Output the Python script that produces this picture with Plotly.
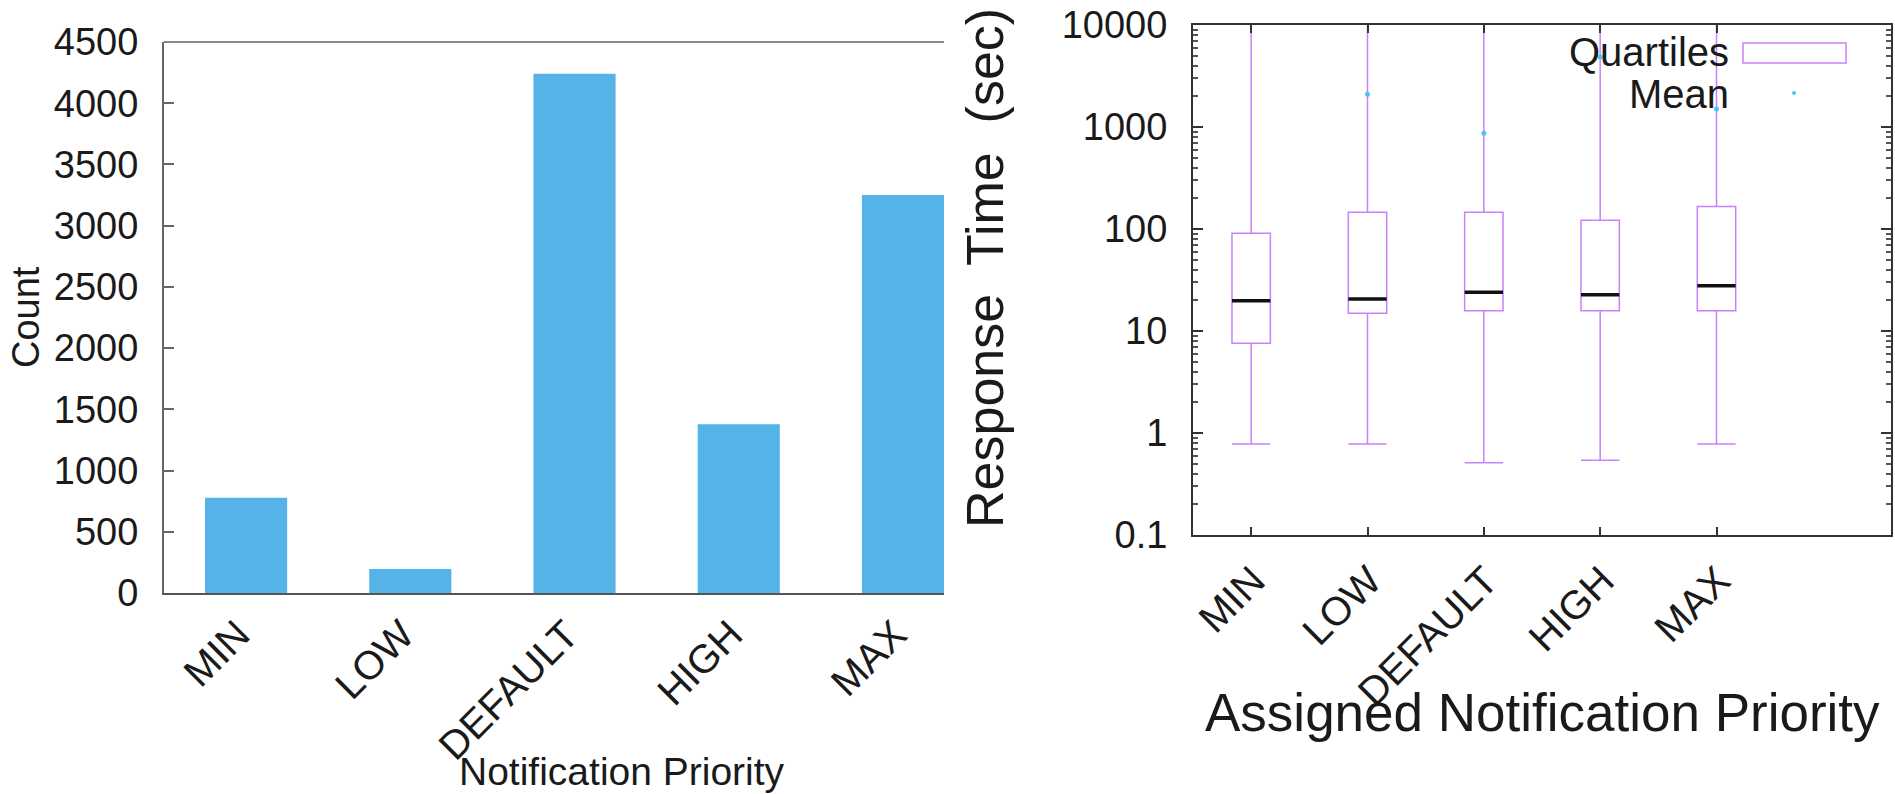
import plotly.graph_objects as go

# ---- data -------------------------------------------------------------
priorities = ["MIN", "LOW", "DEFAULT", "HIGH", "MAX"]

# number of notifications per priority
counts = [778, 197, 4240, 1378, 3250]

# response time statistics (seconds) per assigned priority
q1 = [7.6, 14.9, 15.8, 15.8, 15.8]
median = [19.8, 20.6, 24.0, 22.7, 27.8]
q3 = [90.8, 146, 146, 122, 166]
lower_whisker = [0.78, 0.78, 0.51, 0.54, 0.78]
upper_whisker = [100000, 100000, 100000, 100000, 100000]  # beyond the axis top
mean = [None, 2090, 867, 4850, 1500]

y_ticks_count = [0, 500, 1000, 1500, 2000, 2500, 3000, 3500, 4000, 4500]
y_ticks_time = [0.1, 1, 10, 100, 1000, 10000]
y_ticklabels_time = ["0.1", "1", "10", "100", "1000", "10000"]

# ---- styling ----------------------------------------------------------
W, H = 1895, 794
FONT = "Liberation Sans"
BAR_BLUE = "#55b3e8"
VIOLET = "#c981fb"
MEAN_BLUE = "#4fc3f7"


def px_x(p):
    return p / W


def px_y(p):
    return 1 - p / H


x_pos = list(range(len(priorities)))          # bar chart positions
box_pos = [i + 1 for i in range(len(priorities))]  # box plot positions

fig = go.Figure()

# Left: bar chart of counts
fig.add_trace(go.Bar(
    x=x_pos, y=counts, width=0.5,
    marker=dict(color=BAR_BLUE, line=dict(width=0)),
    xaxis="x", yaxis="y", showlegend=False,
))

# Right: quartile boxes with whiskers
fig.add_trace(go.Box(
    x=box_pos, q1=q1, median=median, q3=q3,
    lowerfence=lower_whisker, upperfence=upper_whisker,
    width=0.33, whiskerwidth=1,
    line=dict(color=VIOLET, width=1.5),
    fillcolor="rgba(0,0,0,0)",
    boxpoints=False,
    xaxis="x2", yaxis="y2", showlegend=False,
))

# medians drawn as thick black bars across each box
fig.add_trace(go.Box(
    x=box_pos, q1=median, median=median, q3=median,
    lowerfence=median, upperfence=median,
    width=0.33, whiskerwidth=0,
    line=dict(color="#111111", width=3.5),
    fillcolor="rgba(0,0,0,0)",
    boxpoints=False,
    xaxis="x2", yaxis="y2", showlegend=False,
))

# means
fig.add_trace(go.Scatter(
    x=box_pos, y=mean, mode="markers",
    marker=dict(color=MEAN_BLUE, size=5),
    xaxis="x2", yaxis="y2", showlegend=False,
))

minor_vals = [m * 10 ** e for e in range(-1, 4) for m in range(2, 10)]

fig.update_layout(
    width=W, height=H,
    margin=dict(l=0, r=0, t=0, b=0, autoexpand=False),
    paper_bgcolor="white", plot_bgcolor="white",
    font=dict(family=FONT, color="#1a1a1a", size=38),
    boxmode="overlay",
    xaxis=dict(
        domain=[px_x(164), px_x(944)],
        range=[-0.5, 4.25], automargin=False,
        tickmode="array", tickvals=x_pos, ticktext=priorities,
        tickangle=-45, ticks="", showgrid=False, zeroline=False,
        showline=True, linecolor="#555555", linewidth=2,
        tickfont=dict(size=40), ticklabelstandoff=0, ticklabelshift=-8,
        anchor="y",
    ),
    yaxis=dict(
        domain=[px_y(593), px_y(42)],
        range=[0, 4500], automargin=False,
        tickmode="array", tickvals=y_ticks_count,
        ticks="inside", ticklen=10, tickwidth=2, tickcolor="#666666",
        showgrid=False, zeroline=False,
        showline=True, linecolor="#666666", linewidth=2,
        tickfont=dict(size=38), ticklabelstandoff=16,
        anchor="x",
    ),
    xaxis2=dict(
        domain=[px_x(1193), px_x(1891)],
        range=[0.5, 6.5], automargin=False,
        tickmode="array", tickvals=box_pos, ticktext=priorities,
        tickangle=-45, ticks="inside", ticklen=8, tickwidth=1.5,
        tickcolor="#333333", mirror="ticks",
        showgrid=False, zeroline=False,
        showline=True, linecolor="#333333", linewidth=2,
        tickfont=dict(size=40), ticklabelstandoff=4, ticklabelshift=2,
        anchor="y2",
    ),
    yaxis2=dict(
        domain=[px_y(535), px_y(25)],
        type="log", range=[-1, 4], automargin=False,
        tickmode="array", tickvals=y_ticks_time, ticktext=y_ticklabels_time,
        ticks="inside", ticklen=10, tickwidth=1.5, tickcolor="#333333",
        mirror="ticks",
        minor=dict(tickmode="array", tickvals=minor_vals, ticks="inside",
                   ticklen=5, tickcolor="#555555", showgrid=False),
        showgrid=False, zeroline=False,
        showline=True, linecolor="#333333", linewidth=2,
        tickfont=dict(size=38), ticklabelstandoff=16,
        anchor="x2",
    ),
)

# top spine of the bar chart (no right spine)
fig.add_shape(type="line", xref="x domain", yref="y domain",
              x0=0, x1=1, y0=1, y1=1,
              line=dict(color="#888888", width=2))

# axis titles
fig.add_annotation(text="Count", x=px_x(26), y=px_y(317), xref="paper", yref="paper",
                   textangle=-90, showarrow=False, font=dict(size=38),
                   xanchor="center", yanchor="middle")
fig.add_annotation(text="Notification Priority", x=px_x(622), y=px_y(771),
                   xref="paper", yref="paper", showarrow=False,
                   font=dict(size=39), xanchor="center", yanchor="middle")
fig.add_annotation(text="Response  Time  (sec)", x=px_x(985), y=px_y(268),
                   xref="paper", yref="paper", textangle=-90, showarrow=False,
                   font=dict(size=52), xanchor="center", yanchor="middle")
fig.add_annotation(text="Assigned Notification Priority", x=px_x(1542), y=px_y(712),
                   xref="paper", yref="paper", showarrow=False,
                   font=dict(size=53), xanchor="center", yanchor="middle")

# key for the box plot
fig.add_annotation(text="Quartiles", x=px_x(1731), y=px_y(52), xref="paper", yref="paper",
                   showarrow=False, font=dict(size=40), xanchor="right", yanchor="middle")
fig.add_annotation(text="Mean", x=px_x(1731), y=px_y(94), xref="paper", yref="paper",
                   showarrow=False, font=dict(size=40), xanchor="right", yanchor="middle")
fig.add_shape(type="rect", xref="paper", yref="paper",
              x0=px_x(1743), x1=px_x(1846), y0=px_y(63), y1=px_y(43),
              line=dict(color=VIOLET, width=1.5), fillcolor="rgba(0,0,0,0)")
fig.add_shape(type="circle", xref="paper", yref="paper",
              x0=px_x(1792), x1=px_x(1796), y0=px_y(95), y1=px_y(91),
              line=dict(color=MEAN_BLUE, width=0), fillcolor=MEAN_BLUE)

fig.write_html("out.html")
